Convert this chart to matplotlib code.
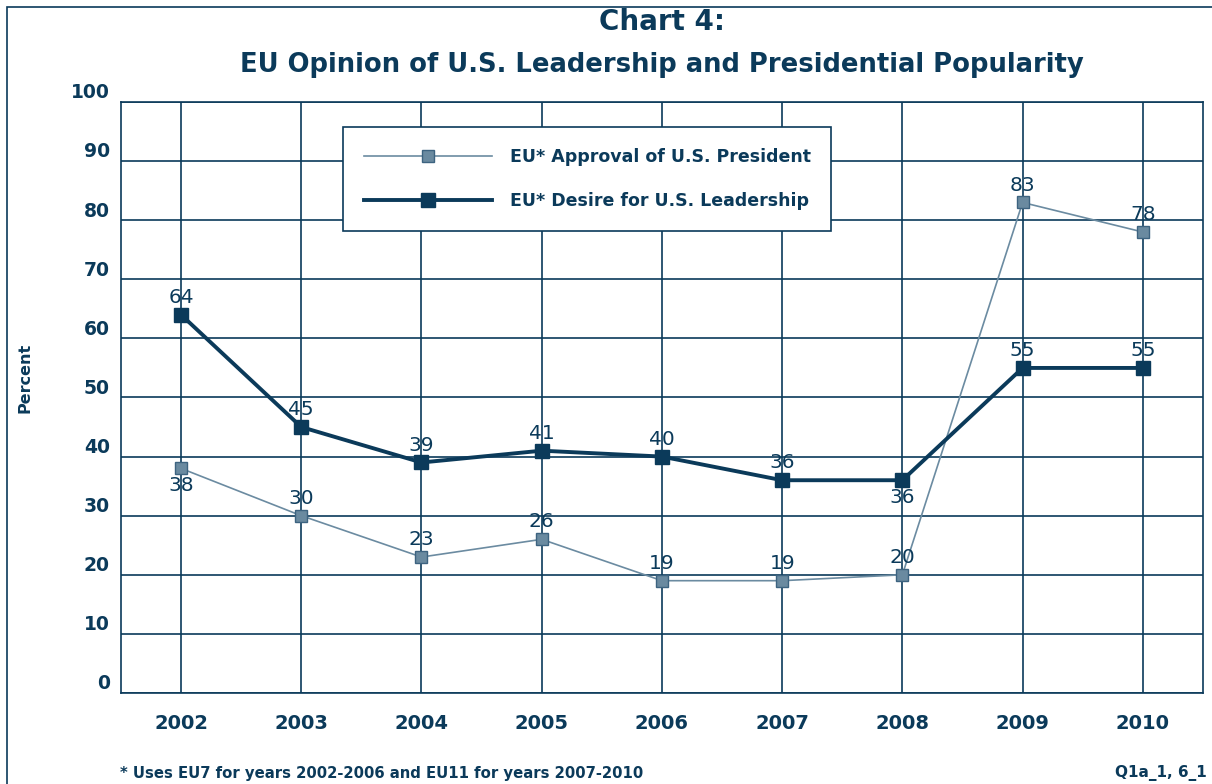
#import library
import matplotlib.pyplot as plt
from matplotlib.patches import Rectangle
from matplotlib.transforms import ScaledTranslation

#define datasets
years = ["2002", "2003", "2004", "2005", "2006", "2007", "2008", "2009", "2010"]
approval = [38, 30, 23, 26, 19, 19, 20, 83, 78]
desire = [64, 45, 39, 41, 40, 36, 36, 55, 55]

# label placement: 1 = above, -1 = below
approval_pos = [-1, 1, 1, 1, 1, 1, 1, 1, 1]
desire_pos = [1, 1, 1, 1, 1, 1, -1, 1, 1]

navy = "#0b3a5a"
steel = "#6b8ba1"
plt.rcParams["font.family"] = "DejaVu Sans"

#define fig and plot size
fig = plt.figure(figsize=(12.12, 7.84), dpi=100)
ax = fig.add_axes([0.0998, 0.1161, 0.8927, 0.7538])

x = list(range(len(years)))

#define approval line
ax.plot(x, approval, color=steel, linewidth=1.2, marker="s", markersize=8.5,
        markerfacecolor="#6a8aa0", markeredgecolor="#3d6380", markeredgewidth=1.0,
        label="EU* Approval of U.S. President", zorder=3)

#define desire line
ax.plot(x, desire, color=navy, linewidth=2.8, marker="s", markersize=9.5,
        markerfacecolor=navy, markeredgecolor=navy,
        label="EU* Desire for U.S. Leadership", zorder=4)

#data labels
for xi, v, p in zip(x, approval, approval_pos):
    ax.annotate(str(v), (xi, v), xytext=(0, 12.5 * p), textcoords="offset points",
                ha="center", va="center", fontsize=14.5, color=navy, zorder=5)
for xi, v, p in zip(x, desire, desire_pos):
    ax.annotate(str(v), (xi, v), xytext=(0, 12.5 * p), textcoords="offset points",
                ha="center", va="center", fontsize=14.5, color=navy, zorder=5)

#axes and grid
ax.set_xlim(-0.5, len(years) - 0.5)
ax.set_ylim(0, 100)
ax.set_xticks(x)
ax.set_xticklabels(years)
ax.set_yticks(range(0, 101, 10))
ax.grid(True, color=navy, linewidth=1.2)
ax.set_axisbelow(True)
for s in ax.spines.values():
    s.set_color(navy)
    s.set_linewidth(1.2)
ax.tick_params(length=0, colors=navy)
ax.tick_params(axis="x", pad=15, labelsize=14)
ax.tick_params(axis="y", pad=8, labelsize=13.5)
for lab in ax.get_xticklabels() + ax.get_yticklabels():
    lab.set_fontweight("bold")
shift = ScaledTranslation(0, 8 / 72, fig.dpi_scale_trans)
for lab in ax.get_yticklabels():
    lab.set_transform(lab.get_transform() + shift)

#y label
fig.text(25 / 1212, 1 - 378 / 784, "Percent", rotation=90, ha="center", va="center",
         fontsize=11.5, fontweight="bold", color=navy)

#define title
fig.text(0.546, 0.972, "Chart 4:", ha="center", va="center",
         fontsize=20, fontweight="bold", color=navy)
fig.text(0.546, 0.917, "EU Opinion of U.S. Leadership and Presidential Popularity",
         ha="center", va="center", fontsize=18.6, fontweight="bold", color=navy)

#define legend
leg = ax.legend(loc="upper left", bbox_to_anchor=(0.2052, 0.9577), borderaxespad=0,
                fancybox=False, framealpha=1, edgecolor=navy, handlelength=7.4,
                handletextpad=1.0, borderpad=1.2, labelspacing=1.5, numpoints=1,
                prop={"weight": "bold", "size": 12.5})
leg.get_frame().set_linewidth(1.2)
for t in leg.get_texts():
    t.set_color(navy)

#footnotes
fig.text(0.099, 0.014, "* Uses EU7 for years 2002-2006 and EU11 for years 2007-2010",
         ha="left", va="center", fontsize=10.7, fontweight="bold", color=navy)
fig.text(0.996, 0.014, "Q1a_1, 6_1", ha="right", va="center",
         fontsize=11, fontweight="bold", color=navy)

#outer frame
fig.patches.append(Rectangle((0.0058, -0.1), 1.2, 1.091, transform=fig.transFigure,
                             fill=False, edgecolor=navy, linewidth=1.2))

#save
fig.savefig("out.png", dpi=100)
